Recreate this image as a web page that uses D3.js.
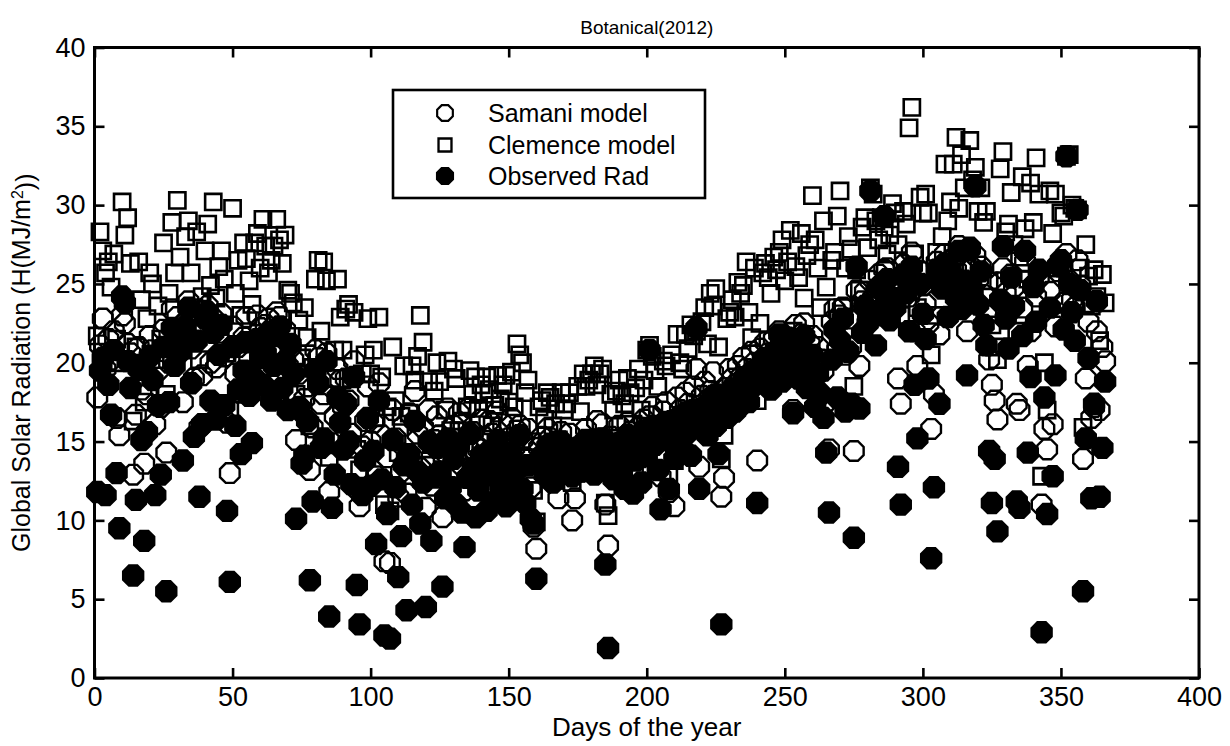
<!DOCTYPE html>
<html><head><meta charset="utf-8">
<script src="https://cdn.jsdelivr.net/npm/d3@7"></script>
<style>body{margin:0;background:#fff}svg{display:block}</style>
</head><body><svg id="c" width="1230" height="746"></svg>
<script>
const observed = [
11.8,19.5,20.3,11.6,18.6,16.7,20.8,13.0,9.5,24.2,
23.8,20.1,18.4,6.5,11.3,19.6,15.1,8.7,15.6,20.4,
18.9,11.6,17.3,12.9,21.0,5.5,17.5,22.2,19.8,21.6,
20.7,13.8,22.3,23.5,18.7,15.3,21.4,11.5,16.1,22.8,
23.2,17.6,21.9,16.4,20.5,22.4,17.3,10.6,6.1,21.0,
16.0,18.3,14.2,19.5,21.3,17.9,14.9,19.0,21.5,20.3,
18.6,20.6,21.9,17.6,19.8,21.7,22.3,18.4,20.1,17.0,
21.2,19.3,10.1,17.2,13.6,14.1,16.3,6.2,11.2,19.5,
18.7,14.6,15.2,20.1,3.9,10.8,12.9,17.8,16.2,14.5,
17.4,15.0,12.3,19.1,5.9,3.4,11.6,13.8,16.5,12.2,
14.4,8.5,17.6,12.6,2.7,10.4,2.5,15.1,12.1,6.4,
9.0,13.5,4.3,14.2,11.0,16.3,13.1,9.8,12.4,4.5,
15.0,8.7,12.8,14.6,13.1,5.8,11.4,15.2,12.1,13.9,
11.0,14.8,10.5,8.3,12.7,15.5,13.3,10.2,11.9,14.1,
12.8,10.6,14.4,13.0,11.2,15.1,12.2,13.7,10.9,12.6,
14.3,11.8,13.2,15.4,12.0,11.1,13.5,10.1,9.8,6.3,
13.6,14.1,12.9,14.7,13.8,12.4,14.2,13.6,15.0,14.0,
13.3,14.5,12.8,13.9,14.6,13.1,14.4,15.1,13.7,14.2,
12.9,14.8,13.4,15.2,7.2,1.9,14.0,12.6,13.5,14.9,
13.1,12.0,15.4,14.3,11.7,13.8,14.6,12.4,15.7,14.1,
20.8,15.9,14.8,13.2,10.7,15.1,16.2,12.0,15.5,13.9,
16.4,15.0,14.5,16.8,15.6,14.1,17.0,22.2,12.0,16.3,
17.2,15.4,16.7,17.9,16.0,14.2,3.4,17.1,16.5,18.2,
17.6,16.9,18.4,17.3,19.0,18.1,17.5,19.4,18.6,11.1,
19.8,18.9,20.3,19.2,18.3,20.6,19.5,21.8,18.8,20.1,
21.0,19.6,16.8,21.5,19.0,20.8,21.7,18.4,19.9,20.5,
17.2,19.3,18.0,16.5,14.3,10.5,20.2,22.1,17.8,21.4,
22.8,16.9,20.7,17.4,8.9,26.1,17.1,21.9,23.6,22.5,
30.9,23.0,21.1,24.8,23.4,29.3,25.3,22.7,24.1,23.5,
13.4,11.0,25.6,24.4,22.0,26.1,18.6,15.2,25.0,23.1,
21.5,19.0,7.6,12.1,25.9,17.4,24.7,26.3,22.9,25.9,
25.5,24.1,27.1,23.4,25.2,19.2,27.3,24.6,31.2,23.7,
25.8,22.4,21.1,14.4,11.1,13.9,9.3,24.0,27.4,22.8,
20.9,25.4,23.6,11.2,10.8,21.7,27.1,14.3,19.1,24.8,
22.6,25.9,2.9,17.8,10.4,23.5,12.8,19.2,26.2,26.5,
22.1,33.1,25.0,23.2,21.4,29.7,24.6,5.5,15.2,20.3,
11.4,17.4,23.9,11.5,14.6,18.8];

const samani = [
17.8,21.1,22.8,19.6,21.5,20.2,22.0,16.5,15.4,23.0,
22.5,21.2,20.6,12.9,16.7,21.0,18.3,13.6,18.0,21.7,
20.8,16.1,19.5,17.2,22.1,14.3,20.0,23.4,21.3,22.9,
21.8,17.5,22.6,23.9,20.9,19.0,22.4,15.9,19.2,23.3,
23.6,20.0,22.8,19.7,21.9,23.1,20.4,16.2,13.0,22.3,
19.3,21.0,18.1,21.6,22.9,20.3,18.7,21.4,23.0,22.2,
21.5,22.4,22.8,20.6,21.7,23.2,22.9,21.0,22.1,19.8,
21.0,20.2,15.1,19.3,16.9,17.7,18.5,13.2,15.9,20.8,
20.3,17.4,18.0,20.6,11.8,14.9,16.6,19.6,18.9,17.2,
19.0,17.6,15.5,20.1,12.0,10.9,14.7,16.3,18.5,15.0,
16.2,12.8,18.7,15.4,7.4,14.0,7.3,17.0,15.2,11.5,
13.1,16.0,11.7,16.8,14.0,18.2,15.5,13.3,15.9,10.8,
17.0,12.2,15.1,16.6,15.4,10.2,14.3,17.1,14.8,16.0,
14.2,16.8,13.5,11.9,15.0,17.2,15.6,13.4,14.5,16.4,
15.3,13.6,16.3,15.5,14.1,16.9,15.0,16.1,13.8,15.2,
16.5,14.6,15.7,16.0,15.1,14.0,15.8,12.1,9.6,8.2,
14.6,15.3,14.0,15.8,15.2,13.9,14.9,11.4,15.6,14.8,
14.3,15.5,10.0,11.4,14.6,13.1,14.9,15.8,14.6,15.1,
15.0,16.3,15.2,16.1,11.0,8.4,15.3,14.0,15.1,16.0,
14.8,13.9,16.2,15.6,13.0,15.1,15.9,14.0,16.4,15.4,
16.6,17.2,16.0,15.3,12.8,16.9,17.5,11.8,16.3,10.9,
17.8,17.0,16.4,18.1,17.4,16.2,18.5,19.6,13.4,17.9,
18.8,17.4,18.2,19.4,18.0,16.3,11.5,12.7,18.4,19.6,
19.0,18.6,19.8,19.1,20.3,19.6,19.0,20.7,20.0,13.8,
20.9,20.2,21.3,20.6,19.8,21.5,20.8,22.0,20.4,21.2,
21.6,20.4,17.0,22.4,20.7,21.8,22.5,20.1,21.2,21.7,
19.6,21.0,20.2,19.5,17.5,14.5,22.6,23.4,20.8,23.0,
23.5,20.5,22.8,21.0,14.4,24.6,19.8,23.9,24.5,23.7,
25.2,24.1,23.0,25.6,24.7,25.9,26.0,23.8,24.9,24.0,
19.0,17.4,26.2,25.3,24.2,27.0,22.0,19.8,25.8,24.9,
23.7,22.5,15.8,18.0,26.4,21.8,25.5,26.9,24.8,26.5,
26.6,25.9,27.4,25.0,26.2,22.0,27.2,26.0,26.8,25.3,
26.1,24.3,23.0,20.2,18.6,17.6,16.4,25.1,26.0,24.4,
23.2,25.6,24.8,17.4,17.0,23.5,26.4,19.8,22.0,24.9,
24.2,25.4,11.0,15.8,14.5,24.5,16.1,22.3,25.8,26.1,
23.8,26.9,25.2,24.0,23.5,26.5,24.9,13.9,19.0,22.6,
16.5,17.2,22.0,17.0,21.0,20.1];

const clemence = [
21.7,28.3,27.1,25.7,26.4,24.8,26.9,21.5,20.0,30.2,
28.1,29.2,26.3,16.3,21.0,26.4,24.0,17.5,22.8,25.7,
25.0,20.2,23.6,21.5,27.6,18.0,24.4,28.9,25.7,30.3,
26.7,21.9,28.0,29.0,25.7,23.5,28.3,20.2,24.2,27.1,
28.8,24.9,30.2,24.1,26.1,27.1,25.3,20.6,17.0,29.8,
24.4,26.5,23.0,27.6,26.6,25.2,23.7,27.6,28.2,26.0,
29.1,27.4,25.7,26.5,27.4,29.1,27.8,26.3,28.1,24.6,
24.4,23.8,18.0,22.7,20.3,23.5,21.6,16.0,19.7,25.3,
26.5,22.0,26.4,25.2,14.0,19.0,20.8,25.3,22.9,20.8,
23.4,23.7,19.0,23.2,14.5,13.2,19.3,20.5,22.8,19.3,
20.8,16.5,22.9,19.1,11.0,17.2,10.6,21.0,17.6,14.3,
16.6,19.8,14.2,16.8,19.8,18.9,20.4,23.0,21.3,13.5,
18.8,14.8,18.2,20.0,18.8,12.6,17.0,20.1,15.7,19.6,
19.0,15.7,16.3,14.4,17.2,19.5,18.0,19.1,17.1,18.6,
18.0,19.1,18.3,16.0,17.3,19.2,17.7,18.6,19.2,17.5,
19.4,17.2,21.2,20.5,20.0,18.1,18.9,15.0,11.9,9.9,
17.2,17.6,16.4,18.1,17.8,16.0,17.4,15.1,18.1,17.0,
17.4,18.1,12.4,14.2,18.5,16.9,19.3,18.5,18.9,19.3,
19.8,18.6,19.3,19.6,11.1,10.3,18.0,17.0,18.2,18.9,
17.9,17.4,19.0,18.1,16.1,18.4,19.6,17.0,18.9,20.8,
21.1,20.4,19.5,18.5,15.2,20.1,19.8,12.9,20.5,13.8,
21.8,20.0,19.6,21.8,20.9,22.4,21.7,22.0,16.3,22.6,
23.5,21.2,24.4,23.6,24.7,21.0,13.9,15.4,22.8,23.2,
24.0,22.9,25.1,24.4,24.9,26.4,23.2,21.6,26.0,17.6,
22.5,25.7,26.3,25.4,24.4,26.7,25.9,27.0,27.8,25.2,
26.4,28.4,22.0,26.1,25.4,28.2,24.1,26.8,27.5,30.6,
27.8,26.0,23.5,29.0,24.8,17.2,26.5,27.0,29.3,30.9,
23.5,26.0,28.0,27.2,18.5,25.9,24.6,28.6,29.2,27.3,
31.1,30.7,29.0,27.8,29.2,28.6,26.9,28.1,30.1,29.5,
27.5,23.0,29.6,28.8,34.9,36.2,26.9,23.5,30.5,29.5,
30.7,29.5,20.5,23.0,27.0,25.4,28.0,32.6,29.0,30.2,
32.6,34.3,29.8,33.2,31.1,27.0,34.1,31.6,32.4,29.6,
31.1,28.9,29.6,25.2,22.4,21.0,20.2,32.3,33.4,28.3,
28.8,30.8,27.5,22.0,26.7,31.8,28.5,25.3,31.4,28.9,
33.0,30.7,12.8,20.0,17.0,30.9,28.2,30.7,26.0,29.5,
29.3,33.1,33.2,30.0,29.8,29.7,26.0,15.9,27.5,25.5,
23.6,25.9,24.2,21.4,25.6,23.8];

const days = d3.range(1, observed.length + 1);
const xTicks = [0, 50, 100, 150, 200, 250, 300, 350, 400];
const yTicks = [0, 5, 10, 15, 20, 25, 30, 35, 40];
const seriesNames = ["Samani model", "Clemence model", "Observed Rad"];

const FONT = "'Liberation Sans', Arial, Helvetica, sans-serif";
const svg = d3.select("#c");
const L = 94.5, R = 1199, T = 47.5, B = 678;
const x = d3.scaleLinear().domain([0, 400]).range([L, R]);
const y = d3.scaleLinear().domain([0, 40]).range([B, T]);

function octagon(a) {
  const r = a / Math.cos(Math.PI / 8);
  const pts = d3.range(8).map(k => {
    const t = Math.PI / 8 + k * Math.PI / 4;
    return [r * Math.cos(t), r * Math.sin(t)];
  });
  return "M" + pts.map(p => p[0].toFixed(2) + "," + p[1].toFixed(2)).join("L") + "Z";
}
function square(s) { const h = s / 2; return `M${-h},${-h}H${h}V${h}H${-h}Z`; }

const styles = [
  {path: octagon(9.8), fill: "none", stroke: "#000", sw: 2.4},
  {path: square(16.2), fill: "none", stroke: "#000", sw: 2.6},
  {path: octagon(10.2), fill: "#000", stroke: "#000", sw: 2}
];
const allSeries = [samani, clemence, observed];

// axes
const gx = svg.append("g").attr("transform", `translate(0,${B})`)
  .call(d3.axisBottom(x).tickValues(xTicks).tickSizeInner(-10).tickSizeOuter(0).tickPadding(9));
const gxt = svg.append("g").attr("transform", `translate(0,${T})`)
  .call(d3.axisTop(x).tickValues(xTicks).tickSizeInner(-10).tickSizeOuter(0).tickFormat(""));
const gy = svg.append("g").attr("transform", `translate(${L},0)`)
  .call(d3.axisLeft(y).tickValues(yTicks).tickSizeInner(-10).tickSizeOuter(0).tickPadding(9));
const gyr = svg.append("g").attr("transform", `translate(${R},0)`)
  .call(d3.axisRight(y).tickValues(yTicks).tickSizeInner(-10).tickSizeOuter(0).tickFormat(""));
[gx, gxt, gy, gyr].forEach(g => {
  g.select(".domain").remove();
  g.selectAll(".tick line").attr("stroke", "#000").attr("stroke-width", 2.6);
  g.selectAll("text").attr("fill", "#000").style("font-family", FONT).style("font-size", "27px");
});

// points
allSeries.forEach((vals, si) => {
  const st = styles[si];
  svg.append("g").selectAll("path").data(days).join("path")
    .attr("d", st.path)
    .attr("transform", (d, i) => `translate(${x(d)},${y(vals[i])})`)
    .attr("fill", st.fill).attr("stroke", st.stroke).attr("stroke-width", st.sw)
    .attr("stroke-linejoin", "miter");
});

// frame
svg.append("rect").attr("x", L).attr("y", T).attr("width", R - L).attr("height", B - T)
  .attr("fill", "none").attr("stroke", "#000").attr("stroke-width", 3);

// legend
const lg = svg.append("g");
lg.append("rect").attr("x", 393).attr("y", 90).attr("width", 312).attr("height", 108)
  .attr("fill", "#fff").attr("stroke", "#000").attr("stroke-width", 2.6);
const rowsY = [113, 145, 176];
seriesNames.forEach((name, i) => {
  const st = styles[i];
  lg.append("path").attr("d", st.path)
    .attr("transform", `translate(445,${rowsY[i]}) scale(0.8)`)
    .attr("fill", st.fill).attr("stroke", st.stroke).attr("stroke-width", st.sw / 0.8 * 0.9);
  lg.append("text").attr("x", 488).attr("y", rowsY[i]).attr("dy", "0.36em")
    .style("font-family", FONT).style("font-size", "25px").attr("fill", "#000").text(name);
});

// titles
svg.append("text").attr("x", (L + R) / 2).attr("y", 34).attr("text-anchor", "middle")
  .style("font-family", FONT).style("font-size", "19px").text("Botanical(2012)");
svg.append("text").attr("x", (L + R) / 2).attr("y", 736).attr("text-anchor", "middle")
  .style("font-family", FONT).style("font-size", "26px").text("Days of the year");
const yl = svg.append("text").attr("transform", `translate(30,${(T + B) / 2}) rotate(-90)`)
  .attr("text-anchor", "middle").style("font-family", FONT).style("font-size", "25px");
yl.append("tspan").text("Global Solar Radiation (H(MJ/m");
yl.append("tspan").attr("dy", "-0.45em").style("font-size", "16px").text("2");
yl.append("tspan").attr("dy", "0.45em").text("))");
</script></body></html>
